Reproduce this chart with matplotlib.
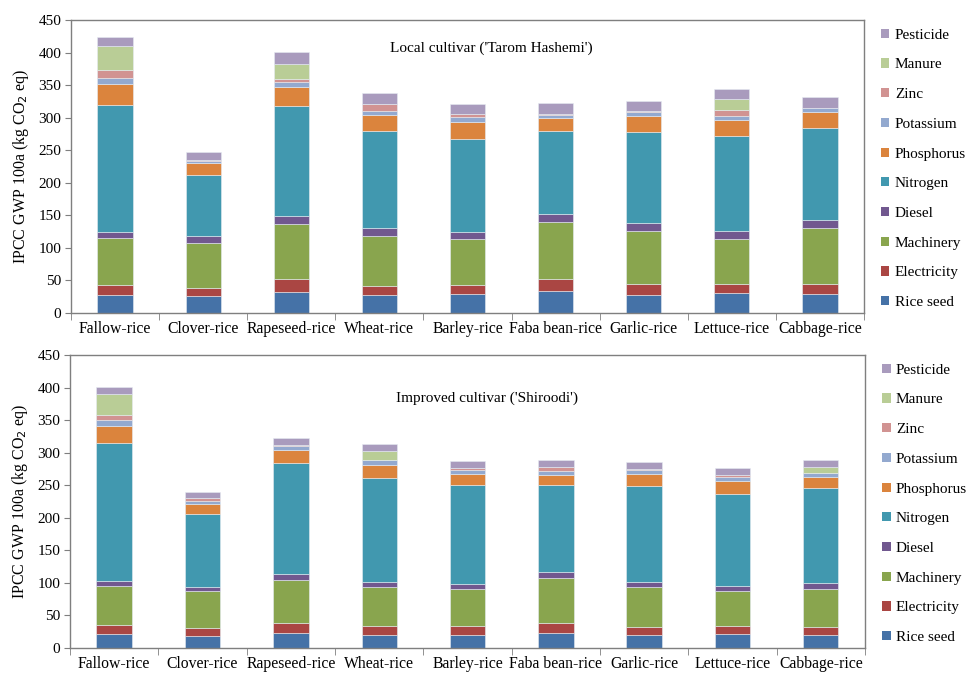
import matplotlib
matplotlib.use("Agg")
import matplotlib.pyplot as plt
from matplotlib.patches import Patch
import numpy as np

plt.rcParams['font.family'] = ['Liberation Serif', 'DejaVu Serif']

systems = ["Fallow-rice", "Clover-rice", "Rapeseed-rice", "Wheat-rice", "Barley-rice",
           "Faba bean-rice", "Garlic-rice", "Lettuce-rice", "Cabbage-rice"]
inputs = ["Rice seed", "Electricity", "Machinery", "Diesel", "Nitrogen",
          "Phosphorus", "Potassium", "Zinc", "Manure", "Pesticide"]
colors = ["#4572A7", "#AA4643", "#89A54E", "#71588F", "#4198AF",
          "#DB843D", "#93A9CF", "#D19392", "#B9CD96", "#A99BBD"]

# Local cultivar ('Tarom Hashemi'), kg CO2 eq per input, one list per system
local_rice_seed   = [28.0, 26.0, 33.0, 27.0, 29.0, 34.0, 28.0, 30.0, 29.0]
local_electricity = [14.5, 12.5, 19.0, 15.0, 14.0, 18.5, 16.5, 15.0, 16.0]
local_machinery   = [72.0, 68.5, 84.0, 76.0, 71.0, 87.0, 81.0, 69.0, 85.0]
local_diesel      = [10.0, 10.5, 13.5, 12.0, 11.0, 13.0, 13.0, 12.5, 13.0]
local_nitrogen    = [195.0, 94.5, 169.0, 149.0, 142.5, 127.0, 139.5, 145.0, 140.5]
local_phosphorus  = [32.0, 18.0, 28.5, 24.5, 26.0, 20.0, 25.0, 25.0, 25.5]
local_potassium   = [10.0, 4.0, 8.0, 7.0, 7.0, 4.5, 6.0, 6.5, 6.5]
local_zinc        = [11.0, 1.0, 4.0, 10.0, 4.5, 1.0, 1.0, 8.5, 0.0]
local_manure      = [37.5, 0.0, 24.0, 0.0, 0.0, 0.0, 0.0, 16.5, 0.0]
local_pesticide   = [14.5, 12.5, 17.5, 17.5, 16.0, 17.5, 15.5, 15.5, 16.5]

# Improved cultivar ('Shiroodi')
impr_rice_seed   = [21.5, 18.5, 22.5, 20.0, 19.5, 23.0, 20.0, 21.5, 20.0]
impr_electricity = [14.0, 12.5, 15.5, 13.5, 14.0, 15.5, 12.5, 12.0, 12.5]
impr_machinery   = [60.0, 56.0, 66.0, 60.5, 57.0, 69.0, 60.5, 54.0, 58.5]
impr_diesel      = [8.0, 7.0, 9.0, 8.0, 8.0, 9.0, 9.0, 8.0, 8.5]
impr_nitrogen    = [211.0, 112.5, 171.0, 159.5, 151.5, 133.5, 147.5, 141.0, 145.5]
impr_phosphorus  = [26.0, 14.5, 19.5, 20.0, 18.0, 15.5, 18.5, 19.5, 17.0]
impr_potassium   = [10.0, 5.0, 7.0, 6.5, 6.0, 6.0, 6.0, 6.5, 7.0]
impr_zinc        = [7.0, 4.5, 1.5, 0.0, 3.0, 6.0, 1.0, 3.0, 0.0]
impr_manure      = [32.5, 0.0, 0.0, 15.0, 0.0, 0.0, 0.0, 0.0, 9.5]
impr_pesticide   = [10.5, 9.5, 10.5, 10.5, 10.0, 11.5, 10.0, 11.0, 10.0]

local_series = [local_rice_seed, local_electricity, local_machinery, local_diesel,
                local_nitrogen, local_phosphorus, local_potassium, local_zinc,
                local_manure, local_pesticide]
impr_series = [impr_rice_seed, impr_electricity, impr_machinery, impr_diesel,
               impr_nitrogen, impr_phosphorus, impr_potassium, impr_zinc,
               impr_manure, impr_pesticide]

panel_titles = ["Local cultivar ('Tarom Hashemi')", "Improved cultivar ('Shiroodi')"]
yticks = [0, 50, 100, 150, 200, 250, 300, 350, 400, 450]

W, H = 968, 674
fig = plt.figure(figsize=(W / 100, H / 100), dpi=100)

def px_axes(x0, y0, x1, y1):
    return fig.add_axes([x0 / W, 1 - y1 / H, (x1 - x0) / W, (y1 - y0) / H])

ax_top = px_axes(71, 20, 864, 313)
ax_bot = px_axes(70, 355, 865, 648)

spine_col = "#7f7f7f"
fs = 11

title_pos = [(0.530, 0.904), (0.524, 0.853)]

for ax, series, title, tpos in [(ax_top, local_series, panel_titles[0], title_pos[0]),
                                (ax_bot, impr_series, panel_titles[1], title_pos[1])]:
    x = np.arange(len(systems))
    bottom = np.zeros(len(systems))
    for vals, col, name in zip(series, colors, inputs):
        vals = np.array(vals)
        ax.bar(x, vals, width=0.4, bottom=bottom, color=col,
               edgecolor="#e6ecf2", linewidth=0.4, label=name, zorder=2)
        bottom += vals
    ax.set_xlim(-0.5, len(systems) - 0.5)
    ax.set_ylim(0, 450)
    ax.set_yticks(yticks)
    ax.set_yticklabels([str(v) for v in yticks], fontsize=11)
    ax.set_xticks(x)
    ax.set_xticklabels(systems, fontsize=11.3)
    ax.set_xticks(np.arange(len(systems) + 1) - 0.5, minor=True)
    ax.tick_params(axis='x', which='major', length=0, pad=5.5)
    ax.tick_params(axis='x', which='minor', length=5, direction='out', color=spine_col)
    ax.tick_params(axis='y', length=4, direction='out', color=spine_col, pad=3)
    for s in ax.spines.values():
        s.set_color(spine_col)
        s.set_linewidth(1.0)
    ax.set_ylabel("IPCC GWP 100a (kg CO$_2$ eq)", fontsize=11.5, labelpad=5)
    ax.text(tpos[0], tpos[1], title, transform=ax.transAxes, ha='center', va='center',
            fontsize=11)
    handles = [Patch(facecolor=c, edgecolor='none') for c in colors]
    ax.legend(handles[::-1], inputs[::-1], loc='upper left',
              bbox_to_anchor=(1.010, 1.002), frameon=False, fontsize=fs,
              handlelength=0.55, handleheight=0.55, handletextpad=0.35,
              labelspacing=1.095, borderaxespad=0.2)

fig.savefig("out.png", dpi=100)
